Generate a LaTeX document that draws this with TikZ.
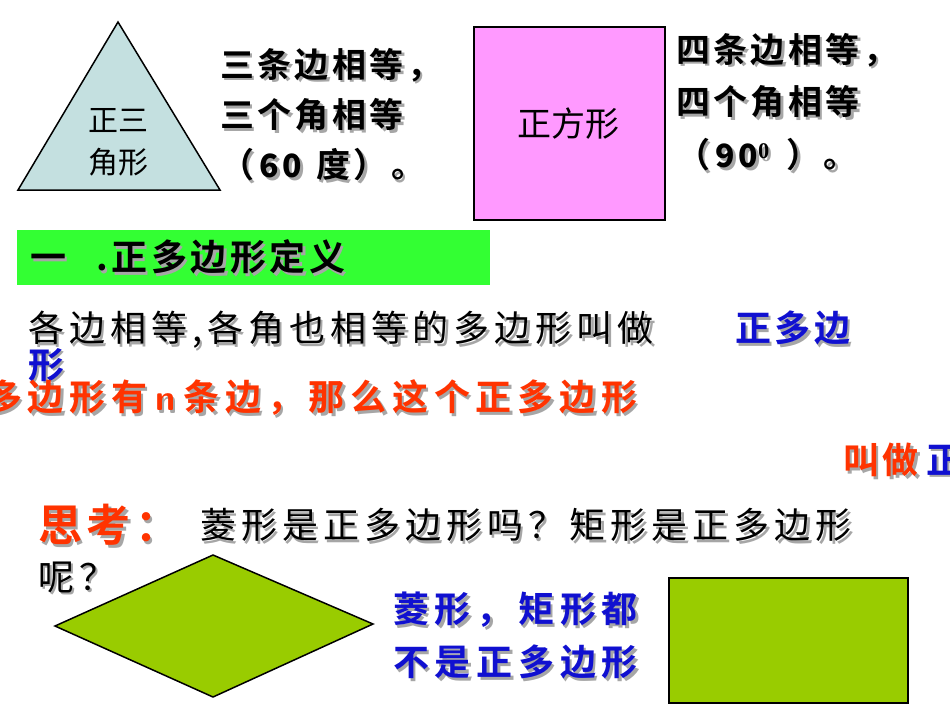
\documentclass[tikz,border=0pt]{standalone}
\usepackage{fontspec}
\setmainfont{Liberation Serif}
\newfontfamily\cjk{Noto Sans CJK SC}
\newfontfamily\cjkw[LetterSpace=14]{Noto Sans CJK SC}
\newfontfamily\cjkb[LetterSpace=10]{Noto Sans CJK SC Bold}
\newfontfamily\cjkbw[LetterSpace=16]{Noto Sans CJK SC Bold}
\definecolor{tri}{HTML}{C4E0E0}
\definecolor{pinkf}{HTML}{FF99FF}
\definecolor{barg}{HTML}{33FF33}
\definecolor{leaf}{HTML}{99CC00}
\definecolor{redo}{HTML}{FF3300}
\definecolor{bluet}{HTML}{1010D0}
\newcommand{\shtxt}[5]{% name, x,y, color, text-with-font
  \node[anchor=west,text=gray!70,inner sep=0pt] at (#2+2.5,#3+2.5) {#5};
  \node[anchor=west,text=#4,inner sep=0pt] (#1) at (#2,#3) {#5};}
\begin{document}
\begin{tikzpicture}[x=1pt,y=-1pt]
\useasboundingbox (0,0) rectangle (950,713);
\clip (0,0) rectangle (950,713);
\fill[white] (0,0) rectangle (950,713);
\tikzset{shp/.style={draw=black,line width=1.5pt}}
\draw[shp,fill=tri] (118,22) -- (220,190) -- (18,190) -- cycle;
\node[align=center,font=\cjk\fontsize{30}{42}\selectfont] (tl) at (118,142) {正三\\角形};
\shtxt{a1}{220}{65}{black}{\cjkb\fontsize{34}{34}\selectfont 三条边相等，}
\shtxt{a2}{220}{115}{black}{\cjkb\fontsize{34}{34}\selectfont 三个角相等}
\shtxt{a3}{220}{165}{black}{\cjkb\fontsize{34}{34}\selectfont （\,\textbf{\fontsize{32}{32}\selectfont 60} 度）。}
\draw[shp,fill=pinkf] (474,27) rectangle (665,220);
\node[font=\cjk\fontsize{34}{34}\selectfont] (sq) at (568,124) {正方形};
\shtxt{b1}{676}{50}{black}{\cjkb\fontsize{34}{34}\selectfont 四条边相等，}
\shtxt{b2}{676}{102}{black}{\cjkb\fontsize{34}{34}\selectfont 四个角相等}
\shtxt{b3}{676}{155}{black}{\cjkb\fontsize{34}{34}\selectfont （\,\textbf{\fontsize{32}{32}\selectfont 90$^{\mathbf 0}$}\, ）。}
\fill[barg] (17,230) rectangle (490,285);
\shtxt{h}{30}{257}{black}{\cjkb\fontsize{36}{36}\selectfont 一\hspace{30pt}.正多边形定义}
\shtxt{d1}{28}{330}{black}{\cjkw\fontsize{36}{36}\selectfont 各边相等,各角也相等的多边形叫做}
\shtxt{d2}{735}{328}{bluet}{\cjkb\fontsize{36}{36}\selectfont 正多边}
\shtxt{d3}{28}{365}{bluet}{\cjkb\fontsize{36}{36}\selectfont 形}
\shtxt{r1}{-14}{398}{redo}{\cjkbw\fontsize{36}{36}\selectfont 多边形有\hspace{8pt}{\sffamily\bfseries n}\hspace{8pt}条边，那么这个正多边形}
\shtxt{r2}{843}{460}{redo}{\cjkb\fontsize{36}{36}\selectfont 叫做}
\shtxt{r3}{926}{460}{bluet}{\cjkb\fontsize{36}{36}\selectfont 正}
\shtxt{t1}{38}{525}{redo}{\cjkb\fontsize{44}{44}\selectfont 思考：}
\shtxt{t2}{200}{525}{black}{\cjkw\fontsize{36}{36}\selectfont 菱形是正多边形吗？矩形是正多边形}
\shtxt{t3}{38}{577}{black}{\cjkw\fontsize{36}{36}\selectfont 呢？}
\draw[shp,fill=leaf] (55,626) -- (213,555) -- (373,624) -- (213,697) -- cycle;
\draw[shp,fill=leaf] (669,578) rectangle (908,703);
\shtxt{c1}{393}{610}{bluet}{\cjkbw\fontsize{36}{36}\selectfont 菱形，矩形都}
\shtxt{c2}{393}{662}{bluet}{\cjkbw\fontsize{36}{36}\selectfont 不是正多边形}
\end{tikzpicture}
\end{document}
